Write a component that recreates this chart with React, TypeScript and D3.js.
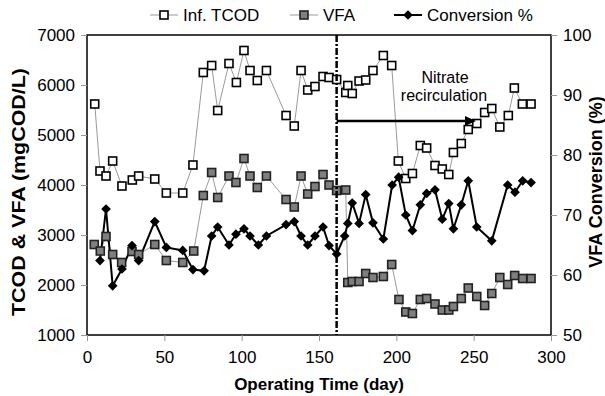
import React, { useEffect, useRef } from "react";
import * as d3 from "d3";

// Inf. TCOD (mgCOD/L)
const tcodDays = [5, 8.4, 12.3, 16.6, 22.6, 29.3, 33.4, 43.8, 51.3, 61.9, 68.5, 75.2, 80.6, 84.5, 91.8, 96.6, 101.5, 105.4, 110.1, 116, 128.7, 134, 138.4, 142.7, 147.4, 152.6, 156.5, 161.4, 167.3, 168.6, 171.5, 175.9, 180.2, 184.9, 191.6, 197, 201.3, 206.1, 210.4, 215.5, 219.6, 225, 229.7, 233.9, 236.9, 242, 246.5, 252, 257.1, 261.7, 266.9, 272.4, 276.3, 281.5, 287.1];
const tcodValues = [5620, 4280, 4180, 4480, 3980, 4100, 4180, 4120, 3840, 3840, 4400, 6250, 6390, 5490, 6430, 6050, 6690, 6290, 6090, 6290, 5390, 5180, 6290, 5900, 5970, 6170, 6150, 6110, 5850, 5990, 5830, 6080, 6100, 6290, 6590, 6390, 4480, 4130, 4230, 4790, 4740, 4390, 4320, 4210, 4650, 4830, 5110, 5230, 5450, 5530, 5160, 5390, 5940, 5620, 5620];

// VFA (mgCOD/L)
const vfaDays = [4.7, 8.6, 12.3, 16.6, 22.4, 29.1, 33.4, 43.8, 51.3, 61.9, 69, 75.2, 80.6, 84.5, 91.8, 96.3, 101.5, 105.4, 110.1, 116, 128.7, 134, 138.4, 142.7, 147.4, 152.6, 156.5, 161.4, 167.3, 168.6, 171.5, 175.9, 180.2, 184.9, 191.6, 197, 201.7, 206.1, 210.4, 215.5, 219.6, 225, 229.7, 233.9, 236.9, 242, 246.5, 252, 257.1, 261.7, 266.9, 272, 276.5, 281.7, 287.1];
const vfaValues = [2810, 2680, 2970, 2610, 2450, 2670, 2610, 2810, 2490, 2450, 2680, 3790, 4250, 3750, 4180, 4050, 4530, 4180, 3950, 4180, 3710, 3560, 4180, 3820, 3970, 4210, 4000, 3890, 3900, 2050, 2070, 2070, 2230, 2150, 2170, 2410, 1710, 1460, 1430, 1710, 1730, 1620, 1500, 1500, 1570, 1730, 1940, 1770, 1590, 1830, 2150, 2010, 2190, 2130, 2130];

// VFA conversion (%)
const convDays = [8.4, 12.3, 16.6, 22.6, 29.1, 33.4, 43.8, 51.3, 61.9, 68.5, 75.7, 80.6, 84.5, 91.8, 96.3, 101.5, 105.4, 110.8, 116, 128.7, 134, 138.4, 142.7, 147.4, 152.6, 156.5, 161.4, 166.6, 168.6, 171.5, 175.9, 180.2, 184.9, 191.6, 197.3, 201.5, 206.1, 210.4, 215.5, 219.6, 225, 229.7, 233.9, 236.9, 242, 246.5, 252, 261.7, 272, 276.7, 281.7, 287.1];
const convValues = [62.4, 71.0, 58.2, 61.0, 64.9, 62.4, 68.9, 64.6, 64.1, 60.9, 60.7, 66.5, 68.0, 65.0, 66.8, 67.7, 66.5, 65.0, 66.5, 68.4, 68.9, 66.5, 65.0, 66.5, 68.0, 64.9, 63.5, 66.5, 68.6, 72.0, 68.6, 73.4, 68.7, 66.0, 75.0, 76.3, 70.0, 67.4, 71.7, 73.6, 74.2, 69.3, 71.9, 67.7, 71.7, 75.7, 68.0, 65.7, 75.0, 73.8, 75.7, 75.4];

const xTicks = [0, 50, 100, 150, 200, 250, 300];
const leftTicks = [1000, 2000, 3000, 4000, 5000, 6000, 7000];
const rightTicks = [50, 60, 70, 80, 90, 100];

const recircStartDay = 161.4;
const recircArrowEndDay = 251.5;
const recircArrowLevel = 5280;

const legendItems = ["Inf. TCOD", "VFA", "Conversion %"];

const FONT = "'Liberation Sans', Arial, sans-serif";

const drawChart = (node: SVGSVGElement) => {
  var svg = d3.select(node);
  svg.selectAll("*").remove();

  var left = 87, right = 551, top = 35, bottom = 335;

  var x = d3.scaleLinear().domain([0, 300]).range([left, right]);
  var yL = d3.scaleLinear().domain([1000, 7000]).range([bottom, top]);
  var yR = d3.scaleLinear().domain([50, 100]).range([bottom, top]);

  // frame
  svg
    .append("rect")
    .attr("x", left)
    .attr("y", top)
    .attr("width", right - left)
    .attr("height", bottom - top)
    .attr("fill", "none")
    .attr("stroke", "#000")
    .attr("stroke-width", 1.5);

  // axes
  var xAxis = svg
    .append("g")
    .attr("transform", "translate(0," + bottom + ")")
    .call(d3.axisBottom(x).tickValues(xTicks).tickFormat(d3.format("d")).tickSize(6).tickPadding(10));
  var lAxis = svg
    .append("g")
    .attr("transform", "translate(" + left + ",0)")
    .call(d3.axisLeft(yL).tickValues(leftTicks).tickFormat(d3.format("d")).tickSize(6).tickPadding(6));
  var rAxis = svg
    .append("g")
    .attr("transform", "translate(" + right + ",0)")
    .call(d3.axisRight(yR).tickValues(rightTicks).tickFormat(d3.format("d")).tickSize(6).tickPadding(6));

  [xAxis, lAxis, rAxis].forEach(function(a) {
    a.select(".domain").remove();
    a.selectAll("line").attr("stroke", "#999");
    a.selectAll("text")
      .attr("font-family", FONT)
      .attr("font-size", 17)
      .attr("fill", "#000");
  });

  // series lines
  var tcodLine = d3
    .line<number>()
    .x(function(d, i) { return x(tcodDays[i]); })
    .y(function(d) { return yL(d); });
  var vfaLine = d3
    .line<number>()
    .x(function(d, i) { return x(vfaDays[i]); })
    .y(function(d) { return yL(d); });
  var convLine = d3
    .line<number>()
    .x(function(d, i) { return x(convDays[i]); })
    .y(function(d) { return yR(d); });

  svg.append("path").attr("d", tcodLine(tcodValues)).attr("fill", "none").attr("stroke", "#9a9a9a").attr("stroke-width", 1);
  svg.append("path").attr("d", vfaLine(vfaValues)).attr("fill", "none").attr("stroke", "#9a9a9a").attr("stroke-width", 1);
  svg.append("path").attr("d", convLine(convValues)).attr("fill", "none").attr("stroke", "#000").attr("stroke-width", 2);

  var sq = 8;
  svg
    .append("g")
    .selectAll("rect")
    .data(tcodValues)
    .enter()
    .append("rect")
    .attr("x", function(d, i) { return x(tcodDays[i]) - sq / 2; })
    .attr("y", function(d) { return yL(d) - sq / 2; })
    .attr("width", sq)
    .attr("height", sq)
    .attr("fill", "#fff")
    .attr("stroke", "#000")
    .attr("stroke-width", 1.6);

  svg
    .append("g")
    .selectAll("rect")
    .data(vfaValues)
    .enter()
    .append("rect")
    .attr("x", function(d, i) { return x(vfaDays[i]) - sq / 2; })
    .attr("y", function(d) { return yL(d) - sq / 2; })
    .attr("width", sq)
    .attr("height", sq)
    .attr("fill", "#7f7f7f")
    .attr("stroke", "#222")
    .attr("stroke-width", 1.6);

  var diamond = d3.symbol().type(d3.symbolDiamond2).size(60);
  svg
    .append("g")
    .selectAll("path")
    .data(convValues)
    .enter()
    .append("path")
    .attr("d", diamond)
    .attr("transform", function(d, i) { return "translate(" + x(convDays[i]) + "," + yR(d) + ")"; })
    .attr("fill", "#000");

  // nitrate recirculation marker
  svg
    .append("line")
    .attr("x1", x(recircStartDay))
    .attr("x2", x(recircStartDay))
    .attr("y1", top)
    .attr("y2", bottom)
    .attr("stroke", "#000")
    .attr("stroke-width", 2.5)
    .attr("stroke-dasharray", "7,2,2,2");

  var ay = yL(recircArrowLevel);
  var ax2 = x(recircArrowEndDay);
  svg
    .append("line")
    .attr("x1", x(recircStartDay))
    .attr("x2", ax2 - 8)
    .attr("y1", ay)
    .attr("y2", ay)
    .attr("stroke", "#000")
    .attr("stroke-width", 2.5);
  svg
    .append("path")
    .attr("d", "M" + ax2 + "," + ay + "L" + (ax2 - 11) + "," + (ay - 5) + "L" + (ax2 - 11) + "," + (ay + 5) + "Z")
    .attr("fill", "#000");

  svg
    .append("text")
    .attr("x", 445)
    .attr("y", 83)
    .attr("text-anchor", "middle")
    .attr("font-family", FONT)
    .attr("font-size", 16)
    .text("Nitrate");
  svg
    .append("text")
    .attr("x", 444)
    .attr("y", 101)
    .attr("text-anchor", "middle")
    .attr("font-family", FONT)
    .attr("font-size", 16)
    .text("recirculation");

  // axis titles
  svg
    .append("text")
    .attr("x", 319)
    .attr("y", 390)
    .attr("text-anchor", "middle")
    .attr("font-family", FONT)
    .attr("font-weight", "bold")
    .attr("font-size", 17)
    .text("Operating Time (day)");
  svg
    .append("text")
    .attr("transform", "translate(25,192) rotate(-90)")
    .attr("text-anchor", "middle")
    .attr("font-family", FONT)
    .attr("font-weight", "bold")
    .attr("font-size", 19)
    .attr("textLength", 248)
    .attr("lengthAdjust", "spacingAndGlyphs")
    .text("TCOD & VFA (mgCOD/L)");
  svg
    .append("text")
    .attr("transform", "translate(602,182) rotate(-90)")
    .attr("text-anchor", "middle")
    .attr("font-family", FONT)
    .attr("font-weight", "bold")
    .attr("font-size", 18)
    .text("VFA Conversion (%)");

  // legend
  var legendX = [164, 304, 408];
  var leg = svg
    .append("g")
    .selectAll("g")
    .data(legendItems)
    .enter()
    .append("g")
    .attr("transform", function(d, i) { return "translate(" + legendX[i] + ",15)"; });
  leg
    .append("line")
    .attr("x1", -14)
    .attr("x2", 14)
    .attr("stroke", function(d, i) { return i == 2 ? "#000" : "#9a9a9a"; })
    .attr("stroke-width", function(d, i) { return i == 2 ? 2 : 1; });
  leg.each(function(d, i) {
    var g = d3.select(this);
    if (i == 2) {
      g.append("path").attr("d", diamond).attr("fill", "#000");
    } else {
      g.append("rect")
        .attr("x", -sq / 2)
        .attr("y", -sq / 2)
        .attr("width", sq)
        .attr("height", sq)
        .attr("fill", i == 0 ? "#fff" : "#7f7f7f")
        .attr("stroke", i == 0 ? "#000" : "#222")
        .attr("stroke-width", 1.6);
    }
  });
  leg
    .append("text")
    .attr("x", 19)
    .attr("y", 6)
    .attr("font-family", FONT)
    .attr("font-size", 17)
    .text(function(d) { return d; });
};

const App = () => {
  const ref = useRef<SVGSVGElement>(null);
  useEffect(() => {
    if (ref.current) drawChart(ref.current);
  });
  return (
    <svg
      ref={ref}
      width={605}
      height={396}
      style={{ position: "absolute", left: 0, top: 0, background: "#fff" }}
    />
  );
};

export default App;
